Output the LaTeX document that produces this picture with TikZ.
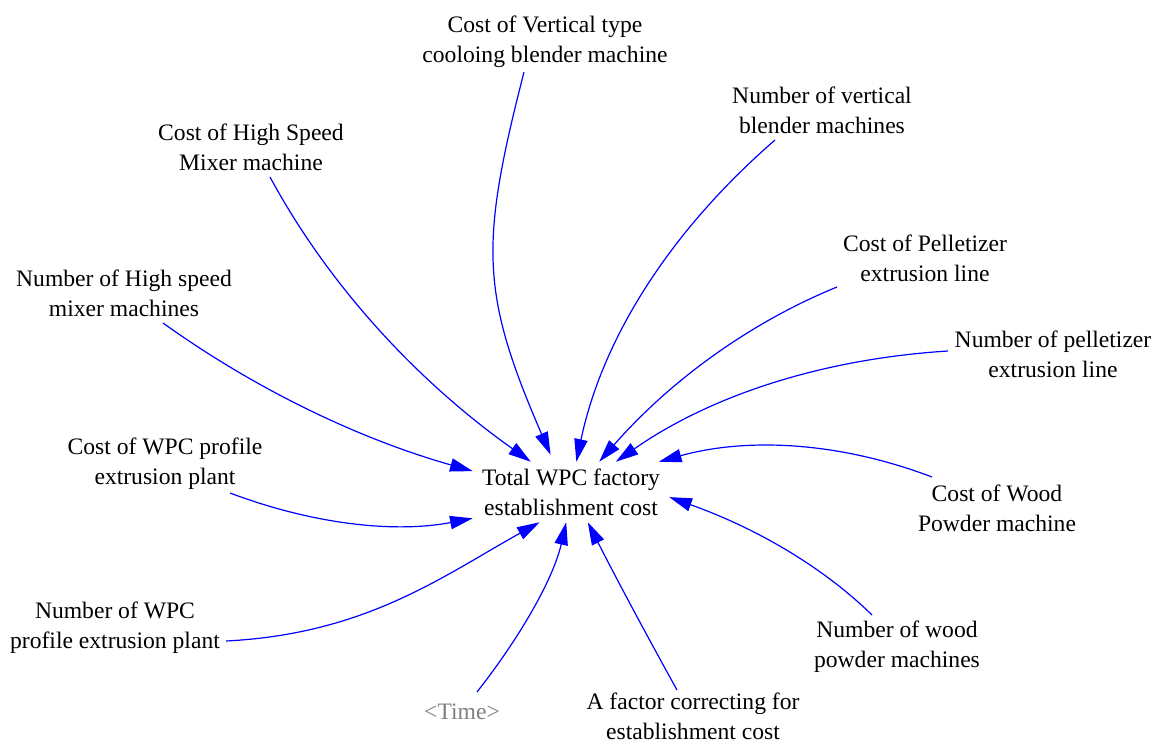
\documentclass[tikz,border=0pt]{standalone}
\usepackage{fontspec}
\setmainfont{Liberation Serif}
\usetikzlibrary{arrows.meta}
\definecolor{linkblue}{RGB}{0,0,255}
\definecolor{shadowgray}{RGB}{128,128,128}
\tikzset{
  varlabel/.style={align=center, inner sep=0pt, font=\fontsize{17.7pt}{22.5pt}\selectfont},
  totalbox/.style={varlabel, minimum width=147pt, minimum height=45pt},
  shadowvar/.style={varlabel, text=shadowgray},
  link/.style={draw=linkblue, line width=0.9pt,
    -{Triangle[length=17pt, width=10pt]}, fill=none},
}
\begin{document}
\begin{tikzpicture}[x=0.75pt, y=-0.75pt]
\useasboundingbox (0,0) rectangle (1154,745);

% central variable
\node[totalbox] (total) at (571,492) {Total WPC factory\\establishment cost};

% inputs
\node[varlabel] (vtc) at (545,42)  {Cost of Vertical type\\cooloing blender machine};
\node[varlabel] (vbn) at (822,110) {Number of vertical\\blender machines};
\node[varlabel] (hsc) at (251,147) {Cost of High Speed\\Mixer machine};
\node[varlabel] (plc) at (925,258) {Cost of Pelletizer\\extrusion line};
\node[varlabel] (hsn) at (124,293) {Number of High speed\\mixer machines};
\node[varlabel] (pln) at (1053,354) {Number of pelletizer\\extrusion line};
\node[varlabel] (wpc) at (165,464) {Cost of WPC profile\\extrusion plant};
\node[varlabel] (wdc) at (997,508) {Cost of Wood\\Powder machine};
\node[varlabel] (wpn) at (115,628) {Number of WPC\\profile extrusion plant};
\node[varlabel] (wdn) at (897,647) {Number of wood\\powder machines};
\node[shadowvar] (time) at (462,712) {<Time>};
\node[varlabel] (fac) at (693,716) {A factor correcting for\\establishment cost};

% where each link leaves its label
\coordinate (vtc-o) at (524,72);
\coordinate (vbn-o) at (775,140);
\coordinate (hsc-o) at (270,177);
\coordinate (plc-o) at (837,287);
\coordinate (hsn-o) at (163,323);
\coordinate (pln-o) at (948,351);
\coordinate (wpc-o) at (230,493);
\coordinate (wdc-o) at (932,477);
\coordinate (wpn-o) at (226,641);
\coordinate (wdn-o) at (872,615);
\coordinate (time-o) at (477,692);
\coordinate (fac-o) at (677,690);

% causal links
\draw[link] (vtc-o) .. controls (480,244) and (480,292) .. ([yshift=5.25pt]total.124);
\draw[link] (vbn-o) .. controls (668,233) and (602,340) .. (total.80.5);
\draw[link] (hsc-o) .. controls (329,286) and (417,381) .. (total.143.1);
\draw[link] (plc-o) .. controls (749,323) and (670,381) .. (total.47);
\draw[link] (hsn-o) .. controls (255,389) and (359,439) .. (total.168.9);
\draw[link] (pln-o) .. controls (821,359) and (710,396) .. (total.34.9);
\draw[link] (wpc-o) .. controls (315,525) and (396,533) .. (total.-165.5);
\draw[link] (wdc-o) .. controls (840,442) and (748,437) .. (total.19.7);
\draw[link] (wpn-o) .. controls (366,634) and (443,576) .. (total.-136.8);
\draw[link] (wdn-o) .. controls (823,567) and (756,528) .. (total.-3.5);
\draw[link] (time-o) .. controls (524,632) and (554,576) .. (total.-99.5);
\draw[link] (fac-o) .. controls (646,634) and (616,578) .. (total.-61.9);
\end{tikzpicture}
\end{document}
